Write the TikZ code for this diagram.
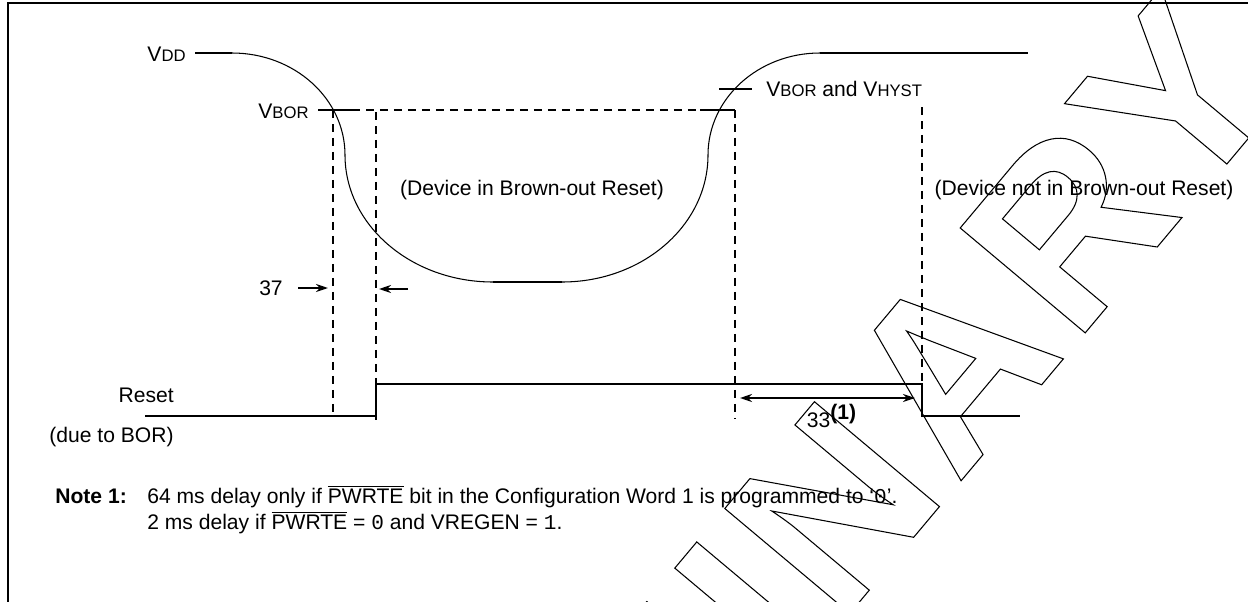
\documentclass[tikz,border=0pt]{standalone}
\usepackage{fontspec}
\setmainfont{Liberation Sans}
\setmonofont{Liberation Mono}
\usetikzlibrary{arrows.meta, positioning}
\tikzset{
  every picture/.style={font=\fontsize{12}{14}\selectfont, x=0.02cm, y=-0.02cm},
  wave/.style={line width=0.6pt},
  level/.style={line width=1.2pt},
  guide/.style={line width=1.2pt, dash pattern=on 0.16cm off 0.12cm},
  dimarrow/.style={-{Stealth[length=2.4mm, width=1.6mm]}, line width=1.2pt},
  lbl/.style={inner sep=0pt},
}
\newcommand{\vlev}[1]{V{\fontsize{9.5}{10}\selectfont #1}}
\newcommand{\outlined}[1]{\special{pdf:literal direct 1 Tr 0.6 w}#1\special{pdf:literal direct 0 Tr}}

\begin{document}
\begin{tikzpicture}
  \useasboundingbox (0,0) rectangle (1248,602);
  % frame
  \draw[line width=1.6pt] (8,602) -- (8,3) -- (1248,3);

  % supply voltage
  \coordinate (vdd0) at (195,53);
  \coordinate (vdd1) at (232,53);
  \draw[level] (vdd0) -- (vdd1);
  \draw[wave] (vdd1) arc[start angle=-90, end angle=0, x radius=113, y radius=102]
    arc[start angle=180, end angle=90, x radius=148, y radius=127] coordinate (bot0);
  \coordinate (bot1) at (562,282);
  \draw[level] (bot0) -- (bot1);
  \draw[wave] (bot1) arc[start angle=90, end angle=0, x radius=146, y radius=127]
    arc[start angle=180, end angle=270, x radius=112, y radius=102] coordinate (top0);
  \draw[level] (top0) -- (1028,53);

  \node[lbl, anchor=east] (vddlbl) at (186,54) {\vlev{DD}};
  \node[lbl, anchor=east] (borlbl) at (309,111) {\vlev{BOR}};
  \node[lbl, anchor=west] (hystlbl) at (766,89) {\vlev{BOR} and \vlev{HYST}};

  % trip levels
  \coordinate (bor0) at (318,110);
  \coordinate (bor1) at (352,110);
  \coordinate (bor2) at (700,110);
  \coordinate (bor3) at (735,110);
  \draw[level] (bor0) -- (bor1);
  \draw[guide] (bor1) -- (bor2);
  \draw[level] (bor2) -- (bor3);
  \draw[level] (719,89) -- (752,89);

  % timing guides
  \draw[guide] (333,110) -- (333,413);
  \draw[guide] (376,112) -- (376,384);
  \draw[guide] (735,110) -- (735,418);
  \draw[guide] (922,107) -- (922,384);

  % reset output
  \draw[level] (145,416) -- (376,416) -- (376,384) -- (922,384) -- (922,416) -- (1020,416);
  \draw[level] (376,416) -- (376,420);
  \node[lbl, anchor=east] (rst) at (174,395) {Reset};
  \node[lbl, anchor=east] (rstsrc) at (174,437) {(due to BOR)};

  \node[lbl] (inbor) at (532,190) {(Device in Brown-out Reset)};
  \node[lbl] (outbor) at (1084,190) {(Device not in Brown-out Reset)};

  % parameters
  \node[lbl] (p37) at (271,288) {37};
  \draw[dimarrow] (298,288) -- (328,288);
  \draw[dimarrow] (408,289) -- (379,289);
  \draw[dimarrow, {Stealth[length=2.4mm, width=1.6mm]}-{Stealth[length=2.4mm, width=1.6mm]}] (740,398) -- (915,398);
  \node[lbl] (p33) at (832,416) {33$^{\textbf{(1)}}$};

  % note
  \node[lbl, anchor=base west, align=left, font=\fontsize{12}{14.7}\selectfont] (note) at (55,529)
    {\makebox[1.84cm][l]{\textbf{Note 1:}}64 ms delay only if $\overline{\hbox{PWRTE}}$ bit in the Configuration Word 1 is programmed to ‘{\ttfamily 0}’.\\
     \hspace*{1.84cm}2 ms delay if $\overline{\hbox{PWRTE}}$ = {\ttfamily 0} and VREGEN = {\ttfamily 1}.};

  % watermark
  \begin{scope}
    \clip (0,0) rectangle (1248,602);
    \node[inner sep=0pt, anchor=base east, rotate=50, font=\fontsize{135}{135}\selectfont\bfseries\addfontfeatures{LetterSpace=5}] (wm) at (1289,90)
      {\outlined{PRELIMINARY}};
  \end{scope}
\end{tikzpicture}
\end{document}
